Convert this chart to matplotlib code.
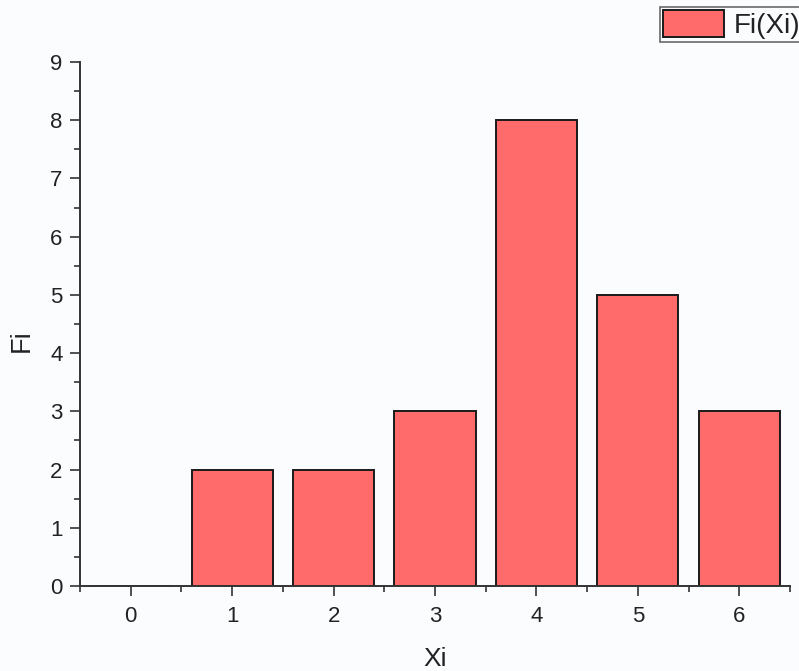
import matplotlib
matplotlib.use("Agg")
import matplotlib.pyplot as plt
from matplotlib.ticker import MultipleLocator

plt.rcParams['font.family'] = ['Liberation Sans', 'DejaVu Sans']

xi = [0, 1, 2, 3, 4, 5, 6]
fi = [0, 2, 2, 3, 8, 5, 3]
series_label = "Fi(Xi)"
x_label = "Xi"
y_label = "Fi"

W, H = 799, 671
fig = plt.figure(figsize=(W / 100, H / 100), dpi=100, facecolor='#fbfcfd')
ax = fig.add_axes([80 / W, (H - 586) / H, (790 - 80) / W, (586 - 62) / H])
ax.set_facecolor('none')

ax.bar(xi, fi, width=0.8, color='#ff6b6b', edgecolor='#1a1a1a', linewidth=1.4,
       label=series_label, zorder=2)

ax.set_xlim(-0.5, 6.5)
ax.set_ylim(0, 9)
ax.xaxis.set_major_locator(MultipleLocator(1))
ax.xaxis.set_minor_locator(MultipleLocator(0.5))
ax.yaxis.set_major_locator(MultipleLocator(1))
ax.yaxis.set_minor_locator(MultipleLocator(0.5))

for s in ['top', 'right']:
    ax.spines[s].set_visible(False)
for s in ['left', 'bottom']:
    ax.spines[s].set_color('#333333')
    ax.spines[s].set_linewidth(1.4)
    ax.spines[s].set_zorder(3)

ax.tick_params(which='major', direction='out', length=7.5, width=1.2, color='#333333',
               labelsize=16, labelcolor='#222222', pad=5)
ax.tick_params(axis='x', which='major', pad=7)
ax.tick_params(which='minor', direction='out', length=4.5, width=1.2, color='#333333')

ax.set_xlabel(x_label, fontsize=19, color='#222222', labelpad=14.5)
ax.set_ylabel(y_label, fontsize=19.5, color='#222222')
ax.yaxis.set_label_coords((35 - 80) / 710, (586 - 341) / 524)

leg = fig.legend(loc='upper left', bbox_to_anchor=(660 / W, 1 - 7 / H),
                 bbox_transform=fig.transFigure, borderaxespad=0,
                 fontsize=20, frameon=True, fancybox=False, shadow=False,
                 handlelength=2.2, handleheight=1.1, handletextpad=0.35,
                 borderpad=0.12, labelcolor='#222222')
leg.get_frame().set_edgecolor('#444444')
leg.get_frame().set_linewidth(1.2)
leg.get_frame().set_facecolor('#fbfcfd')

fig.savefig('out.png', dpi=100, facecolor=fig.get_facecolor())
